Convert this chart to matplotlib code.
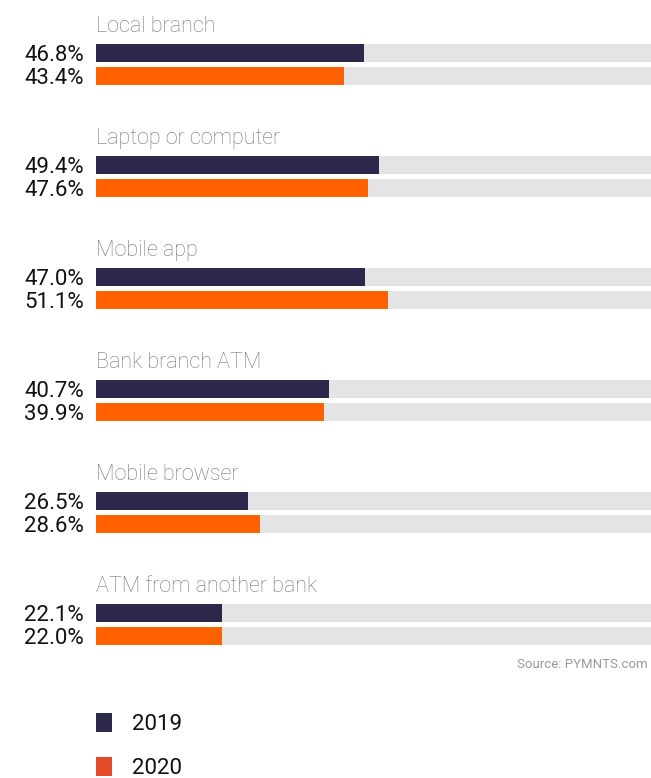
import matplotlib
matplotlib.use("Agg")
import matplotlib.pyplot as plt
from matplotlib.patches import Rectangle

# Survey data: share of consumers using each banking channel
categories = ["Local branch", "Laptop or computer", "Mobile app",
              "Bank branch ATM", "Mobile browser", "ATM from another bank"]
values_2019 = [46.8, 49.4, 47.0, 40.7, 26.5, 22.1]
values_2020 = [43.4, 47.6, 51.1, 39.9, 28.6, 22.0]
years = ["2019", "2020"]
source_text = "Source: PYMNTS.com"

NAVY = "#2B2849"
ORANGE = "#FF6000"
LEGEND_ORANGE = "#E34A2A"
TRACK = "#E4E4E6"
TITLE_GRAY = "#767676"

FONT = ["Roboto", "DejaVu Sans"]

W, H = 651, 778
fig = plt.figure(figsize=(W / 100, H / 100), dpi=100)
ax = fig.add_axes([0, 0, 1, 1])

# horizontal scale: value 0 sits at pixel 96, 5.72 px per percentage point
x0_px, px_per_pct = 96, 5.72
ax.set_xlim(-x0_px / px_per_pct, (W - x0_px) / px_per_pct)
ax.set_ylim(H, 0)
ax.axis("off")

group_step = 112
first_bar = 53
bar_h = 18
gap = 23

for i, (cat, v19, v20) in enumerate(zip(categories, values_2019, values_2020)):
    yc19 = first_bar + i * group_step
    yc20 = yc19 + gap
    ax.text(0, yc19 - 21, cat, ha="left", va="baseline", fontsize=15.5,
            fontweight="light", color=TITLE_GRAY, family=FONT)
    for yc, v, col in ((yc19, v19, NAVY), (yc20, v20, ORANGE)):
        ax.barh(yc, 100, height=bar_h, left=0, color=TRACK, linewidth=0)
        ax.barh(yc, v, height=bar_h, left=0, color=col, linewidth=0)
        ax.text(-12 / px_per_pct, yc + 8, f"{v:.1f}%", ha="right", va="baseline",
                fontsize=16, color="#111111", family=FONT)

fig.text(648 / W, 1 - 668 / H, source_text, fontsize=9.5, color="#9A9A9A",
         family=FONT, ha="right", va="baseline")

# legend swatches
for j, (yr, col) in enumerate(zip(years, [NAVY, LEGEND_ORANGE])):
    ytop = 713 + j * 44
    fig.patches.append(Rectangle((96 / W, 1 - (ytop + 19) / H), 16 / W, 19 / H,
                                 transform=fig.transFigure, color=col, linewidth=0))
    fig.text(132 / W, 1 - (ytop + 12) / H, yr, ha="left", va="center",
             fontsize=16, color="#111111", family=FONT)

fig.savefig("out.png", dpi=100)
